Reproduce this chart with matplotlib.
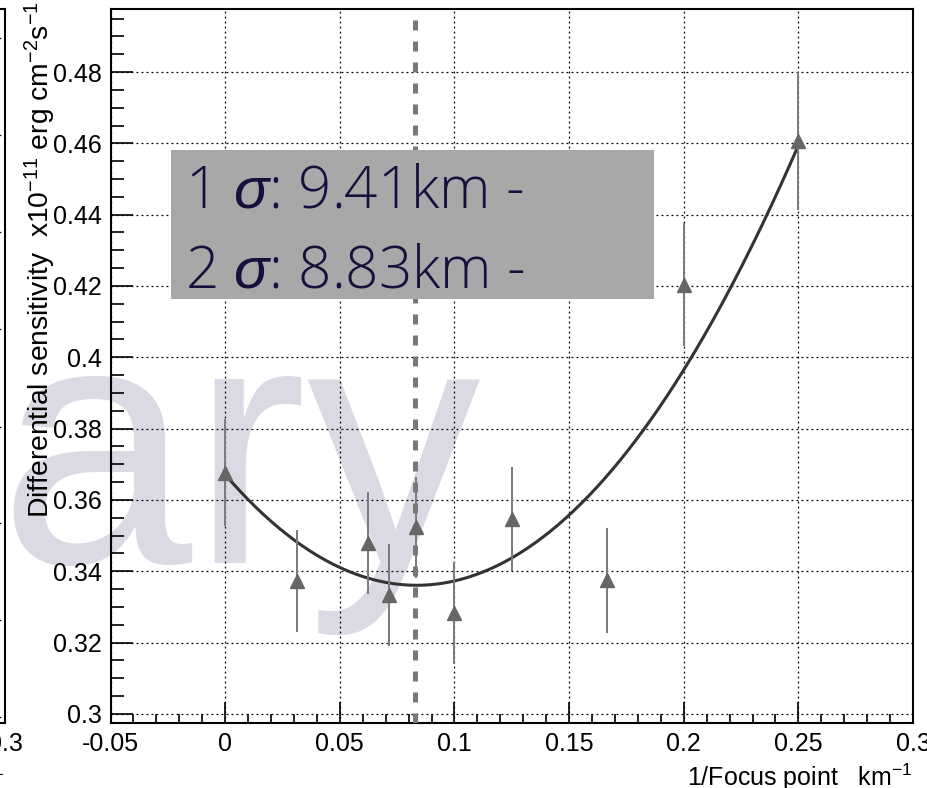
import numpy as np
import matplotlib
matplotlib.use("Agg")
import matplotlib.pyplot as plt
from matplotlib.patches import Rectangle
from matplotlib.ticker import MultipleLocator, FuncFormatter

plt.rcParams['font.family'] = ['Liberation Sans', 'DejaVu Sans']
plt.rcParams['mathtext.fontset'] = 'custom'
plt.rcParams['mathtext.rm'] = 'Liberation Sans'
plt.rcParams['mathtext.it'] = 'Liberation Sans:italic'
plt.rcParams['mathtext.bf'] = 'Liberation Sans:bold'

# data
inv_focus = [0.0, 1/32, 1/16, 1/14, 1/12, 1/10, 1/8, 1/6, 1/5, 1/4]
sensitivity = [0.3676, 0.3372, 0.3479, 0.3333, 0.3523, 0.3284, 0.3547, 0.3375, 0.4204, 0.4607]
sens_err = [0.0150, 0.0143, 0.0144, 0.0143, 0.0141, 0.0143, 0.0146, 0.0147, 0.0172, 0.0194]

# pol2 fit parameters (p0 + p1*x + p2*x^2) and range
fit_coeffs = [0.3671, -0.7432, 4.45]
fit_range = [0.0, 0.25]
best_x = 0.0827

sigma_lines = [r"1 $\sigma$: 9.41km -", r"2 $\sigma$: 8.83km -"]
ylabel = r"Differential sensitivity  x10$^{-11}$ erg cm$^{-2}$s$^{-1}$"
xlabel = r"1/Focus point   km$^{-1}$"

# neighbouring (cut off) panel grid positions, axes fraction
left_grid = [0.008, 0.144, 0.280, 0.415, 0.552, 0.688, 0.824, 0.960]

W, H = 927, 788
fig = plt.figure(figsize=(W / 100, H / 100), dpi=100)

ax_l, ax_r, ax_b, ax_t = 110.5, 913, 722.7, 9
pos = [ax_l / W, 1 - ax_b / H, (ax_r - ax_l) / W, (ax_b - ax_t) / H]
ax = fig.add_axes(pos)
ax.patch.set_alpha(0)

fmt = FuncFormatter(lambda v, p: ('%g' % round(v, 6)))


def style_axes(a):
    for s in a.spines.values():
        s.set_linewidth(1.5)
    a.tick_params(axis='both', which='both', direction='in', top=False, right=False,
                  labelsize=18, width=1.2)
    a.tick_params(axis='y', which='major', length=16, pad=6)
    a.tick_params(axis='y', which='minor', length=9)
    a.tick_params(axis='x', which='major', length=15, pad=7)
    a.tick_params(axis='x', which='minor', length=6.7)
    a.grid(True, which='major', color='black', linestyle=(0, (1.5, 2.5)), linewidth=0.9)


# left neighbour panel, mostly off the figure
ax0 = fig.add_axes([5 / W - pos[2], pos[1], pos[2], pos[3]])
ax0.patch.set_alpha(0)
ax0.set_xlim(-0.05, 0.3)
ax0.set_ylim(0, 1)
ax0.xaxis.set_major_locator(MultipleLocator(0.05))
ax0.xaxis.set_minor_locator(MultipleLocator(0.01))
ax0.xaxis.set_major_formatter(fmt)
ax0.set_yticks(left_grid)
ax0.set_yticklabels([])
style_axes(ax0)
ax0.set_xlabel(xlabel, fontsize=18, loc='right')

# watermark
fig.text(481 / W, 1 - 563 / H, "ary", fontsize=250, color='#dadae5',
         ha='right', va='baseline', zorder=-5)

ax.set_xlim(-0.05, 0.3)
ax.set_ylim(0.29753, 0.49767)
ax.xaxis.set_major_locator(MultipleLocator(0.05))
ax.xaxis.set_minor_locator(MultipleLocator(0.01))
ax.yaxis.set_major_locator(MultipleLocator(0.02))
ax.yaxis.set_minor_locator(MultipleLocator(0.005))
ax.xaxis.set_major_formatter(fmt)
ax.yaxis.set_major_formatter(fmt)
style_axes(ax)

ax.axvline(best_x, color='#787878', linewidth=3.6, dashes=(2.0, 2.2), zorder=3)

xf = np.linspace(fit_range[0], fit_range[1], 300)
yf = np.polyval(fit_coeffs[::-1], xf)
ax.plot(xf, yf, color='#333333', linewidth=2.2, zorder=4)

ax.errorbar(inv_focus, sensitivity, yerr=sens_err, fmt='^', color='#666666',
            ecolor='#7a7a7a', elinewidth=1.4, capsize=0, markersize=9.5, zorder=5)

ax.set_xlabel(xlabel, fontsize=18, loc='right')
fig.text(40 / W, 1 - 1 / H, ylabel, rotation=90, fontsize=20.3, ha='center', va='top')

# sigma box
fig.add_artist(Rectangle((171 / W, 1 - 299 / H), 483 / W, 149 / H,
                         transform=fig.transFigure, facecolor='#a6a9a8', edgecolor='none'))
for i, line in enumerate(sigma_lines):
    fig.text(185 / W, 1 - (208 + 80 * i) / H, line, fontsize=42, color='#1a0e3c',
             family=['Open Sans', 'DejaVu Sans'], fontweight='light',
             ha='left', va='baseline')

fig.savefig('out.png', dpi=100)
